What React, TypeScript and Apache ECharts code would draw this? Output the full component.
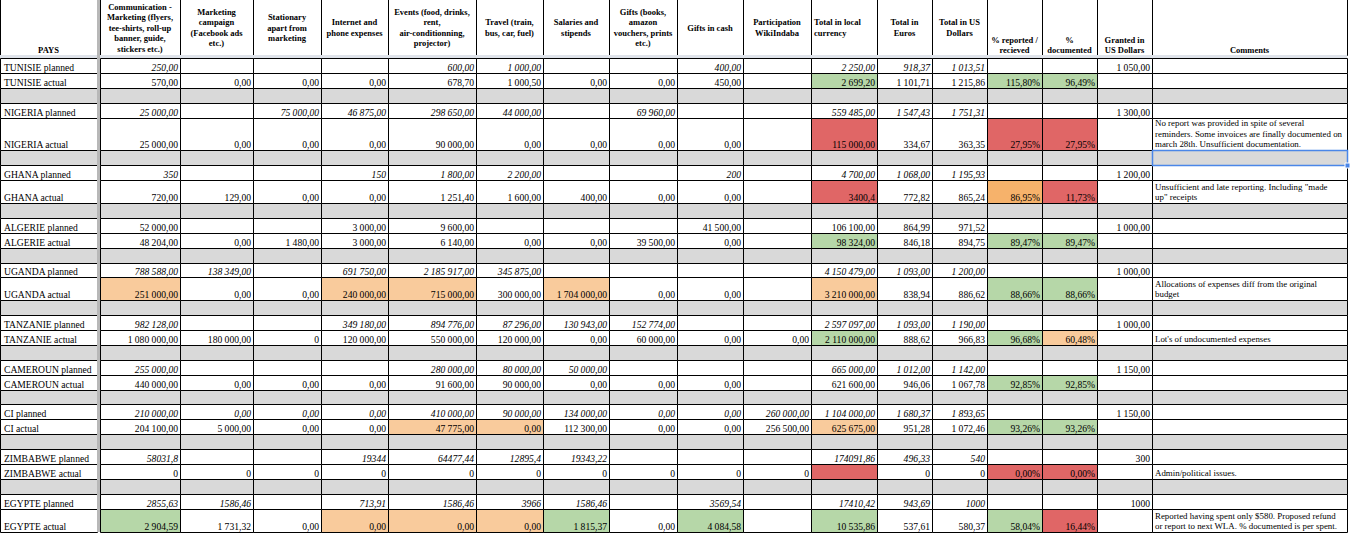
import React, { useEffect, useRef } from "react";
import * as echarts from "echarts";

// ---------- DATA ----------
const headers = [
  "PAYS",
  "Communication -\nMarketing (flyers,\ntee-shirts, roll-up\nbanner, guide,\nstickers etc.)",
  "Marketing\ncampaign\n(Facebook ads\netc.)",
  "Stationary\napart from\nmarketing",
  "Internet and\nphone expenses",
  "Events (food, drinks,\nrent,\nair-conditionning,\nprojector)",
  "Travel (train,\nbus, car, fuel)",
  "Salaries and\nstipends",
  "Gifts (books,\namazon\nvouchers, prints\netc.)",
  "Gifts in cash",
  "Participation\nWikiIndaba",
  "Total in local\ncurrency",
  "Total in\nEuros",
  "Total in US\nDollars",
  "% reported /\nrecieved",
  "%\ndocumented",
  "Granted in\nUS Dollars",
  "Comments",
];

const countries = ["TUNISIE", "NIGERIA", "GHANA", "ALGERIE", "UGANDA", "TANZANIE", "CAMEROUN", "CI", "ZIMBABWE", "EGYPTE"];

const tunisiePlanned = ["250,00", "", "", "", "600,00", "1 000,00", "", "", "400,00", "", "2 250,00", "918,37", "1 013,51", "", "", "1 050,00"];
const tunisieActual = ["570,00", "0,00", "0,00", "0,00", "678,70", "1 000,50", "0,00", "0,00", "450,00", "", "2 699,20", "1 101,71", "1 215,86", "115,80%", "96,49%", ""];
const nigeriaPlanned = ["25 000,00", "", "75 000,00", "46 875,00", "298 650,00", "44 000,00", "", "69 960,00", "", "", "559 485,00", "1 547,43", "1 751,31", "", "", "1 300,00"];
const nigeriaActual = ["25 000,00", "0,00", "0,00", "0,00", "90 000,00", "0,00", "0,00", "0,00", "0,00", "", "115 000,00", "334,67", "363,35", "27,95%", "27,95%", ""];
const ghanaPlanned = ["350", "", "", "150", "1 800,00", "2 200,00", "", "", "200", "", "4 700,00", "1 068,00", "1 195,93", "", "", "1 200,00"];
const ghanaActual = ["720,00", "129,00", "0,00", "0,00", "1 251,40", "1 600,00", "400,00", "0,00", "0,00", "", "3400,4", "772,82", "865,24", "86,95%", "11,73%", ""];
const algeriePlanned = ["52 000,00", "", "", "3 000,00", "9 600,00", "", "", "", "41 500,00", "", "106 100,00", "864,99", "971,52", "", "", "1 000,00"];
const algerieActual = ["48 204,00", "0,00", "1 480,00", "3 000,00", "6 140,00", "0,00", "0,00", "39 500,00", "0,00", "", "98 324,00", "846,18", "894,75", "89,47%", "89,47%", ""];
const ugandaPlanned = ["788 588,00", "138 349,00", "", "691 750,00", "2 185 917,00", "345 875,00", "", "", "", "", "4 150 479,00", "1 093,00", "1 200,00", "", "", "1 000,00"];
const ugandaActual = ["251 000,00", "0,00", "0,00", "240 000,00", "715 000,00", "300 000,00", "1 704 000,00", "0,00", "0,00", "", "3 210 000,00", "838,94", "886,62", "88,66%", "88,66%", ""];
const tanzaniePlanned = ["982 128,00", "", "", "349 180,00", "894 776,00", "87 296,00", "130 943,00", "152 774,00", "", "", "2 597 097,00", "1 093,00", "1 190,00", "", "", "1 000,00"];
const tanzanieActual = ["1 080 000,00", "180 000,00", "0", "120 000,00", "550 000,00", "120 000,00", "0,00", "60 000,00", "0,00", "0,00", "2 110 000,00", "888,62", "966,83", "96,68%", "60,48%", ""];
const camerounPlanned = ["255 000,00", "", "", "", "280 000,00", "80 000,00", "50 000,00", "", "", "", "665 000,00", "1 012,00", "1 142,00", "", "", "1 150,00"];
const camerounActual = ["440 000,00", "0,00", "0,00", "0,00", "91 600,00", "90 000,00", "0,00", "0,00", "0,00", "", "621 600,00", "946,06", "1 067,78", "92,85%", "92,85%", ""];
const ciPlanned = ["210 000,00", "0,00", "0,00", "0,00", "410 000,00", "90 000,00", "134 000,00", "0,00", "0,00", "260 000,00", "1 104 000,00", "1 680,37", "1 893,65", "", "", "1 150,00"];
const ciActual = ["204 100,00", "5 000,00", "0,00", "0,00", "47 775,00", "0,00", "112 300,00", "0,00", "0,00", "256 500,00", "625 675,00", "951,28", "1 072,46", "93,26%", "93,26%", ""];
const zimbabwePlanned = ["58031,8", "", "", "19344", "64477,44", "12895,4", "19343,22", "", "", "", "174091,86", "496,33", "540", "", "", "300"];
const zimbabweActual = ["0", "0", "0", "0", "0", "0", "0", "0", "0", "0", "", "0", "0", "0,00%", "0,00%", ""];
const egyptePlanned = ["2855,63", "1586,46", "", "713,91", "1586,46", "3966", "1586,46", "", "3569,54", "", "17410,42", "943,69", "1000", "", "", "1000"];
const egypteActual = ["2 904,59", "1 731,32", "0,00", "0,00", "0,00", "0,00", "1 815,37", "0,00", "4 084,58", "", "10 535,86", "537,61", "580,37", "58,04%", "16,44%", ""];

const plannedRows = [tunisiePlanned, nigeriaPlanned, ghanaPlanned, algeriePlanned, ugandaPlanned, tanzaniePlanned, camerounPlanned, ciPlanned, zimbabwePlanned, egyptePlanned];
const actualRows = [tunisieActual, nigeriaActual, ghanaActual, algerieActual, ugandaActual, tanzanieActual, camerounActual, ciActual, zimbabweActual, egypteActual];

const comments = [
  "",
  "No report was provided in spite of several\nreminders. Some invoices are finally documented on\nmarch 28th. Unsufficient documentation.",
  "Unsufficient and late reporting. Including \"made\nup\" receipts",
  "",
  "Allocations of expenses diff from the original\nbudget",
  "Lot's of undocumented expenses",
  "",
  "",
  "Admin/political issues.",
  "Reported having spent only $580. Proposed refund\nor report to next WLA. % documented is per spent.",
];

// conditional formatting of the "actual" rows: [country, column, level]
const highlights: [string, number, string][] = [
  ["TUNISIE", 10, "good"], ["TUNISIE", 13, "good"], ["TUNISIE", 14, "good"],
  ["NIGERIA", 10, "bad"], ["NIGERIA", 13, "bad"], ["NIGERIA", 14, "bad"],
  ["GHANA", 10, "bad"], ["GHANA", 13, "warn2"], ["GHANA", 14, "bad"],
  ["ALGERIE", 10, "good"], ["ALGERIE", 13, "good"], ["ALGERIE", 14, "good"],
  ["UGANDA", 0, "warn"], ["UGANDA", 3, "warn"], ["UGANDA", 4, "warn"], ["UGANDA", 6, "warn"], ["UGANDA", 10, "warn"], ["UGANDA", 13, "good"], ["UGANDA", 14, "good"],
  ["TANZANIE", 10, "good"], ["TANZANIE", 13, "good"], ["TANZANIE", 14, "warn"],
  ["CAMEROUN", 13, "good"], ["CAMEROUN", 14, "good"],
  ["CI", 4, "warn"], ["CI", 5, "warn"], ["CI", 10, "warn"], ["CI", 13, "good"], ["CI", 14, "good"],
  ["ZIMBABWE", 10, "bad"], ["ZIMBABWE", 13, "bad"], ["ZIMBABWE", 14, "bad"],
  ["EGYPTE", 0, "good"], ["EGYPTE", 3, "warn"], ["EGYPTE", 4, "warn"], ["EGYPTE", 5, "warn"], ["EGYPTE", 6, "good"], ["EGYPTE", 8, "good"], ["EGYPTE", 10, "good"], ["EGYPTE", 13, "good"], ["EGYPTE", 14, "bad"],
];
const plainPlannedCountries = ["ALGERIE"];

// ---------- LAYOUT / STYLE ----------
const W = 1350;
const H = 534;
const colEdges = [0, 97, 100, 180, 253, 321, 388, 476, 543, 609, 677, 743, 811, 877, 932, 987, 1042, 1097, 1152, 1347];
const rowEdges = [-1, 55, 58, 73, 88, 103, 118, 150, 165, 180, 203, 218, 233, 248, 263, 277, 300, 315, 330, 345, 360, 375, 390, 404, 419, 434, 449, 464, 479, 494, 509, 532];
const fills: Record<string, string> = { good: "#b6d7a8", bad: "#e06666", warn: "#f9cb9c", warn2: "#f6b26b" };
const GRAY = "#d9d9d9";
const FONT = '"Liberation Serif", "Times New Roman", serif';
const DATA_SIZE = 9.6;
const COMMENT_SIZE = 8.9;
const headerBottomCols = [0, 14, 15, 16, 17];
const headerLeftCols = [11];
const selectedCell = { row: 7, col: 17 };

type Cell = {
  c0: number; c1: number; r0: number; r1: number;
  fill: string; stroke: string | null; text: string;
  align: "left" | "right" | "center"; vmode: "bottom" | "middle" | "hbottom";
  italic: boolean; bold: boolean; size: number; lh: number; kind?: string;
};

function buildCells(): Cell[] {
  const cells: Cell[] = [];
  const colSpan = (c: number) => (c === 0 ? [0, 1] : [c + 1, c + 2]);
  headers.forEach((h, c) => {
    const [a, b] = colSpan(c);
    cells.push({
      c0: a, c1: b, r0: 0, r1: 1, fill: "#ffffff", stroke: "#000", text: h,
      align: headerLeftCols.includes(c) ? "left" : "center",
      vmode: headerBottomCols.includes(c) ? "hbottom" : "middle",
      italic: false, bold: true, size: 8.5, lh: 10.5,
    });
  });
  let r = 2;
  countries.forEach((country, i) => {
    const rowsHere = [
      { label: country + " planned", vals: plannedRows[i], italic: !plainPlannedCountries.includes(country), comment: "", actual: false },
      { label: country + " actual", vals: actualRows[i], italic: false, comment: comments[i], actual: true },
    ];
    rowsHere.forEach((row) => {
      cells.push({ c0: 0, c1: 1, r0: r, r1: r + 1, fill: "#fff", stroke: "#000", text: row.label, align: "left", vmode: "bottom", italic: false, bold: false, size: DATA_SIZE, lh: 10.5 });
      row.vals.forEach((v, k) => {
        const hl = row.actual ? highlights.find((h) => h[0] === country && h[1] === k) : undefined;
        const granted = k === 15;
        cells.push({
          c0: k + 2, c1: k + 3, r0: r, r1: r + 1,
          fill: hl ? fills[hl[2]] : "#fff", stroke: "#000", text: v,
          align: "right", vmode: "bottom", italic: row.italic && !granted, bold: false, size: DATA_SIZE, lh: 10.5,
        });
      });
      cells.push({ c0: 18, c1: 19, r0: r, r1: r + 1, fill: "#fff", stroke: "#000", text: row.comment, align: "left", vmode: "bottom", italic: false, bold: false, size: COMMENT_SIZE, lh: 10.5 });
      r += 1;
    });
    if (i < countries.length - 1) {
      cells.push({ c0: 0, c1: 1, r0: r, r1: r + 1, fill: GRAY, stroke: "#000", text: "", align: "left", vmode: "bottom", italic: false, bold: false, size: 10, lh: 10.5 });
      for (let k = 2; k < colEdges.length - 1; k++) {
        cells.push({ c0: k, c1: k + 1, r0: r, r1: r + 1, fill: GRAY, stroke: "#000", text: "", align: "left", vmode: "bottom", italic: false, bold: false, size: 10, lh: 10.5 });
      }
      r += 1;
    }
  });
  cells.push({ c0: 0, c1: colEdges.length - 1, r0: 1, r1: 2, fill: "#dfe3ea", stroke: null, text: "", align: "left", vmode: "bottom", italic: false, bold: false, size: 10, lh: 10 });
  cells.push({ c0: 1, c1: 2, r0: 0, r1: rowEdges.length - 1, fill: "#b8b8b8", stroke: null, text: "", align: "left", vmode: "bottom", italic: false, bold: false, size: 10, lh: 10 });
  cells.push({ c0: selectedCell.col + 1, c1: selectedCell.col + 2, r0: selectedCell.row, r1: selectedCell.row + 1, fill: "none", stroke: "#4a86e8", text: "", align: "left", vmode: "bottom", italic: false, bold: false, size: 10, lh: 10, kind: "select" });
  return cells;
}

const cells = buildCells();

export default function App() {
  const ref = useRef<HTMLDivElement>(null);
  useEffect(() => {
    if (!ref.current) return;
    const chart = echarts.init(ref.current, null, { renderer: "svg" });
    const data = cells.map((c) => [colEdges[c.c0], colEdges[c.c1], rowEdges[c.r0], rowEdges[c.r1]]);
    const renderItem = (params: any, api: any) => {
      const c = cells[params.dataIndex];
      const p0 = api.coord([api.value(0), api.value(2)]);
      const p1 = api.coord([api.value(1), api.value(3)]);
      const x0 = p0[0], y0 = p0[1], x1 = p1[0], y1 = p1[1];
      const children: any[] = [];
      if (c.kind === "select") {
        children.push({ type: "rect", shape: { x: x0 + 0.5, y: y0 + 0.5, width: x1 - x0, height: y1 - y0 }, style: { fill: "none", stroke: c.stroke, lineWidth: 1.5 } });
        children.push({ type: "rect", shape: { x: x1 - 2, y: y1 - 2, width: 5, height: 5 }, style: { fill: "#4a86e8", stroke: "#fff", lineWidth: 1 } });
        return { type: "group", children };
      }
      children.push({
        type: "rect",
        shape: c.stroke ? { x: x0 + 0.5, y: y0 + 0.5, width: x1 - x0, height: y1 - y0 } : { x: x0, y: y0, width: x1 - x0, height: y1 - y0 },
        style: c.stroke ? { fill: c.fill, stroke: c.stroke, lineWidth: 1 } : { fill: c.fill },
      });
      if (c.text) {
        let tx = (x0 + x1) / 2;
        if (c.align === "right") tx = x1 - 2;
        else if (c.align === "left") tx = x0 + (c.c0 === 0 ? 4 : 3);
        let ty = (y0 + y1) / 2 + 0.5;
        let va = "middle";
        if (c.vmode === "bottom") { ty = y1 - 0.5; va = "bottom"; }
        else if (c.vmode === "hbottom") { ty = y1 + 0.5; va = "bottom"; }
        children.push({
          type: "text",
          style: {
            text: c.text, x: tx, y: ty, align: c.align, verticalAlign: va,
            fill: "#000", fontSize: c.size, lineHeight: c.lh, fontFamily: FONT,
            fontStyle: c.italic ? "italic" : "normal", fontWeight: c.bold ? "bold" : "normal",
          },
        });
      }
      return { type: "group", children };
    };
    chart.setOption({
      animation: false,
      backgroundColor: "#ffffff",
      grid: { left: 0, right: 0, top: 0, bottom: 0 },
      xAxis: { type: "value", min: 0, max: W, show: false },
      yAxis: { type: "value", min: 0, max: H, inverse: true, show: false },
      series: [{ type: "custom", renderItem, data, clip: false, silent: true, encode: { x: [0, 1], y: [2, 3] } }],
    });
    return () => chart.dispose();
  }, []);
  return <div ref={ref} style={{ position: "absolute", left: 0, top: 0, width: W, height: H }} />;
}
